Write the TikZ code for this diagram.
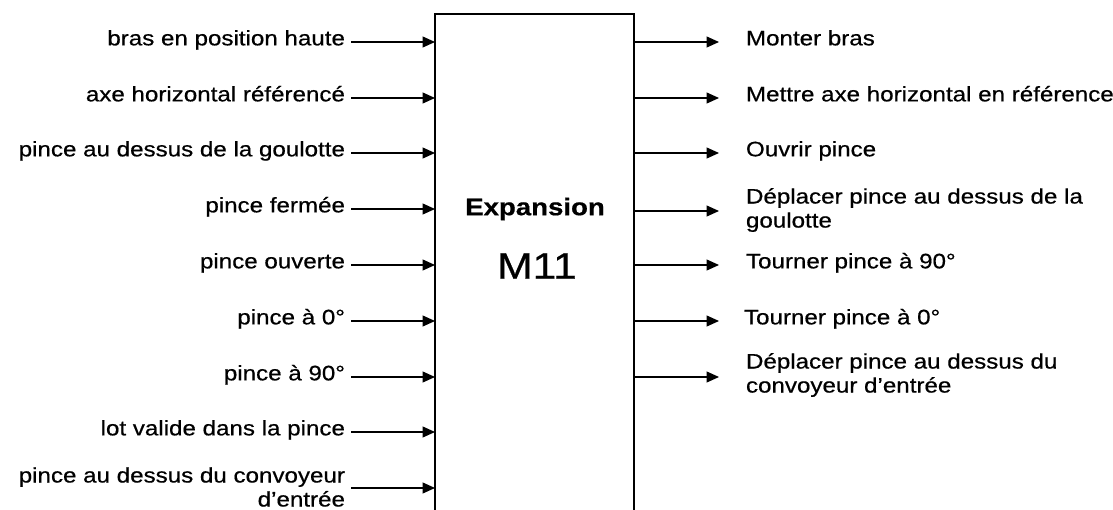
\documentclass[tikz,border=0pt]{standalone}
\usepackage{fontspec}
\setmainfont[FakeStretch=1.15,FakeBold=0.6]{Liberation Sans}
\usetikzlibrary{arrows.meta}
\begin{document}
\begin{tikzpicture}[x=1pt,y=1pt,
  every node/.style={inner sep=0pt, outer sep=0pt},
  txt/.style={font=\fontsize{21}{24}\selectfont},
  onel/.style={txt, text height=0.85em, text depth=0.18em},
  twol/.style={txt, align=#1},
  arr/.style={line width=1.3pt, -{Triangle[length=12.5pt,width=11pt]}},
  boxline/.style={line width=2pt}]
\useasboundingbox (0,0) rectangle (1113,-510);
% box
\node[minimum width=199pt, minimum height=500pt, anchor=north west] (box) at (435,-14) {};
\draw[boxline] (box.south west) -- (box.north west) -- (box.north east) -- (box.south east);
\node[font=\bfseries\fontsize{24}{26}\selectfont] (title) at (535,-209) {Expansion};
\node[font=\fontsize{37}{40}\selectfont] (name) at (537,-266) {M11};
% start/end columns
\coordinate (ls) at (351,0);
\coordinate (re) at (719,0);
% inputs
\node[onel, anchor=east] (l1) at (345,-42) {bras en position haute};
\node[onel, anchor=east] (l2) at (345,-98) {axe horizontal référencé};
\node[onel, anchor=east] (l3) at (345,-153) {pince au dessus de la goulotte};
\node[onel, anchor=east] (l4) at (345,-209) {pince fermée};
\node[onel, anchor=east] (l5) at (345,-265) {pince ouverte};
\node[onel, anchor=east] (l6) at (345,-321) {pince à 0°};
\node[onel, anchor=east] (l7) at (345,-377) {pince à 90°};
\node[onel, anchor=east] (l8) at (345,-432) {lot valide dans la pince};
\node[twol=right, anchor=east] (l9) at (345,-487) {pince au dessus du convoyeur\\d’entrée};
\foreach \i/\y in {1/-42,2/-98,3/-153,4/-209,5/-265,6/-321,7/-377,8/-432,9/-488}{
  \draw[arr] (ls |- 0,\y) -- (box.west |- 0,\y);
}
% outputs
\node[onel, anchor=west] (r1) at (746,-42) {Monter bras};
\node[onel, anchor=west] (r2) at (746,-98) {Mettre axe horizontal en référence};
\node[onel, anchor=west] (r3) at (746,-153) {Ouvrir pince};
\node[twol=left, anchor=west] (r4) at (746,-210) {Déplacer pince au dessus de la\\goulotte};
\node[onel, anchor=west] (r5) at (746,-265) {Tourner pince à 90°};
\node[onel, anchor=west] (r6) at (744,-321) {Tourner pince à 0°};
\node[twol=left, anchor=west] (r7) at (746,-375) {Déplacer pince au dessus du\\convoyeur d’entrée};
\foreach \i/\y in {1/-42,2/-98,3/-153,4/-211,5/-265,6/-321,7/-377}{
  \draw[arr] (box.east |- 0,\y) -- (re |- 0,\y);
}
\end{tikzpicture}
\end{document}
